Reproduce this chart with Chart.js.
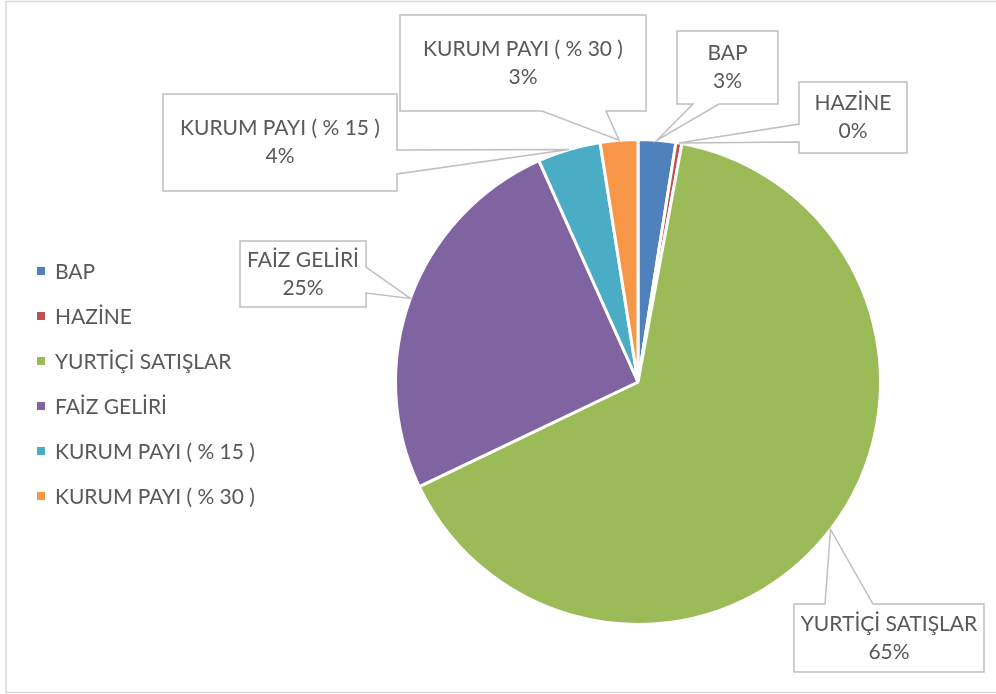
<!DOCTYPE html>
<html>
<head>
<meta charset="utf-8">
<script src="https://cdn.jsdelivr.net/npm/chart.js@4/dist/chart.umd.min.js"></script>
<style>
  html, body { margin: 0; padding: 0; background: #fff; }
  #wrap { position: relative; width: 996px; height: 694px; }
</style>
</head>
<body>
<div id="wrap"><canvas id="pie" width="996" height="694"></canvas></div>
<script>
// gelir kalemleri
const kalemler = ['BAP', 'HAZİNE', 'YURTİÇİ SATIŞLAR', 'FAİZ GELİRİ', 'KURUM PAYI ( % 15 )', 'KURUM PAYI ( % 30 )'];
const degerler = [2.5, 0.4, 65.0, 25.4, 4.2, 2.5];
const renkler = ['#4F81BD', '#C0504D', '#9BBB59', '#8064A2', '#4BACC6', '#F79646'];

const FONT = 'Lato';
const YAZI_RENK = '#595959';

// etiket kutulari: konum + ok tabaninin hangi kenarda oldugu
const kutular = [
    { x: 677, y: 31, w: 101, h: 73, kenar: 'bottom', a: 693, b: 719 },
    { x: 799, y: 82, w: 108, h: 71, kenar: 'left', a: 124, b: 142 },
    { x: 794, y: 604, w: 190, h: 68, kenar: 'top', a: 825, b: 873 },
    { x: 240, y: 241, w: 126, h: 66, kenar: 'right', a: 267, b: 293 },
    { x: 163, y: 94, w: 234, h: 97, kenar: 'right', a: 150, b: 174 },
    { x: 400, y: 15, w: 246, h: 96, kenar: 'bottom', a: 542, b: 606 }
];

function yuzde(i) {
    const toplam = degerler.reduce((s, v) => s + v, 0);
    return Math.round(degerler[i] / toplam * 100) + '%';
}

// kutu + uc kismi tek path
function balonCiz(ctx, k, tx, ty) {
    const r = k.x + k.w, alt = k.y + k.h;
    ctx.beginPath();
    ctx.moveTo(k.x, k.y);
    if (k.kenar === 'top') { ctx.lineTo(k.a, k.y); ctx.lineTo(tx, ty); ctx.lineTo(k.b, k.y); }
    ctx.lineTo(r, k.y);
    if (k.kenar === 'right') { ctx.lineTo(r, k.a); ctx.lineTo(tx, ty); ctx.lineTo(r, k.b); }
    ctx.lineTo(r, alt);
    if (k.kenar === 'bottom') { ctx.lineTo(k.b, alt); ctx.lineTo(tx, ty); ctx.lineTo(k.a, alt); }
    ctx.lineTo(k.x, alt);
    if (k.kenar === 'left') { ctx.lineTo(k.x, k.b); ctx.lineTo(tx, ty); ctx.lineTo(k.x, k.a); }
    ctx.closePath();
    ctx.fillStyle = '#fff';
    ctx.fill();
    ctx.strokeStyle = '#BFBFBF';
    ctx.lineWidth = 1.5;
    ctx.stroke();
}

const etiketler = {
    id: 'etiketler',
    afterDatasetsDraw(chart) {
        const ctx = chart.ctx;
        const arcs = chart.getDatasetMeta(0).data;
        ctx.save();
        arcs.forEach((arc, i) => {
            const p = arc.getProps(['x', 'y', 'startAngle', 'endAngle', 'outerRadius'], true);
            const orta = (p.startAngle + p.endAngle) / 2;
            const tx = p.x + Math.cos(orta) * p.outerRadius;
            const ty = p.y + Math.sin(orta) * p.outerRadius;
            const k = kutular[i];
            balonCiz(ctx, k, tx, ty);
            ctx.fillStyle = YAZI_RENK;
            ctx.font = '21px ' + FONT;
            ctx.textAlign = 'center';
            ctx.textBaseline = 'middle';
            const cx = k.x + k.w / 2, cy = k.y + k.h / 2;
            ctx.fillText(kalemler[i], cx, cy - 14);
            ctx.fillText(yuzde(i), cx, cy + 14);
        });
        ctx.restore();
    }
};

const solLejant = {
    id: 'solLejant',
    afterDraw(chart) {
        const ctx = chart.ctx;
        ctx.save();
        ctx.font = '21px ' + FONT;
        ctx.textBaseline = 'middle';
        ctx.textAlign = 'left';
        kalemler.forEach((ad, i) => {
            const y = 271 + i * 45;
            ctx.fillStyle = renkler[i];
            ctx.fillRect(37, y - 4, 8, 8);
            ctx.fillStyle = YAZI_RENK;
            ctx.fillText(ad, 55, y + 1);
        });
        // dis cerceve
        ctx.strokeStyle = '#D9D9D9';
        ctx.lineWidth = 1.5;
        ctx.strokeRect(6, 1.5, 1000, 691);
        ctx.restore();
    }
};

new Chart(document.getElementById('pie'), {
    type: 'pie',
    data: {
        labels: kalemler,
        datasets: [{
            data: degerler,
            backgroundColor: renkler,
            borderColor: '#fff',
            borderWidth: 3
        }]
    },
    options: {
        responsive: false,
        animation: false,
        devicePixelRatio: 1,
        layout: { padding: { left: 394, right: 114, top: 138, bottom: 68 } },
        plugins: {
            legend: { display: false },
            tooltip: { enabled: false }
        }
    },
    plugins: [etiketler, solLejant]
});
</script>
</body>
</html>
